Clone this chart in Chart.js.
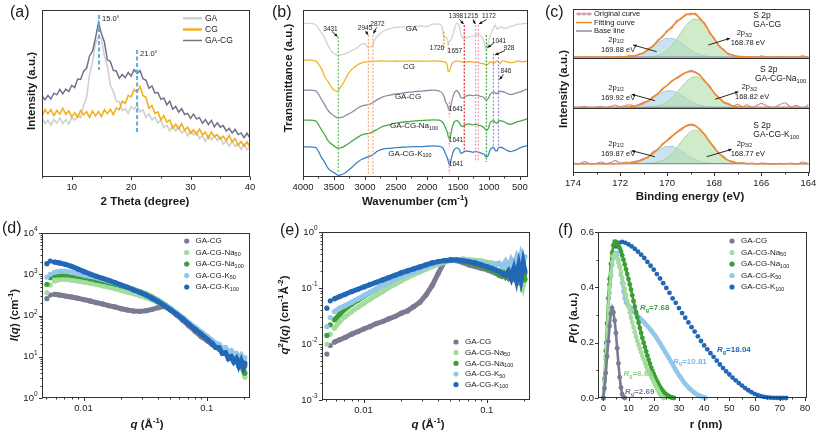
<!DOCTYPE html>
<html>
<head>
<meta charset="utf-8">
<title>Figure</title>
<script src="https://cdn.jsdelivr.net/npm/chart.js"></script>
<style>
html,body{margin:0;padding:0;background:#ffffff;}
#fig{position:relative;width:817px;height:434px;overflow:hidden;background:#fff;}
#fig canvas{position:absolute;left:0;top:0;}
</style>
</head>
<body>
<div id="fig">
<canvas id="cA" width="817" height="434"></canvas>
<canvas id="cB" width="817" height="434"></canvas>
<canvas id="cC" width="817" height="434"></canvas>
<canvas id="cD" width="817" height="434"></canvas>
<canvas id="cE" width="817" height="434"></canvas>
<canvas id="cF" width="817" height="434"></canvas>
</div>
<script>
// ======================= DATA =======================
// (a) XRD
const XRD_2THETA = [5,5.5,6,6.5,7,7.5,8,8.5,9,9.5,10,10.5,11,11.5,12,12.5,13,13.5,14,14.5,15,15.5,16,16.5,17,17.5,18,18.5,19,19.5,20,20.5,21,21.5,22,22.5,23,23.5,24,24.5,25,25.5,26,26.5,27,27.5,28,28.5,29,29.5,30,30.5,31,31.5,32,32.5,33,33.5,34,34.5,35,35.5,36,36.5,37,37.5,38,38.5,39,39.5,40];
const XRD_GA = [35.9,32,34,31.1,34.4,32.2,35.2,32,34.4,31.8, 35.6,34.1,37,35.5,42.7,47.7,61.3,69,79.8,83.4, 82.9,72.3,66.5,54.9,51.4,45.2,45.2,39.8,40.9,38.1, 42.1,40.6,43,39,40.2,35.7,37.8,34.2,35.8,32.4, 33.9,29.5,31,27.6,30.4,27.7,30.2,26.3,27.9,24.6, 27.6,25.1,27,23,24.7,21.4,24.8,22.2,24.8,21.9, 23.9,19.8,21.5,18.4,21.4,18.3,19.9,16.6,19.6,16.3, 18.2];
const XRD_CG = [36.2,40.3,37.9,40.4,36.8,39.9,37.7,41.2,37.5,39.6, 36,38.4,35.9,39.9,37.2,39.2,35.7,39.5,36.6,39.2, 36.2,40.3,37.9,40.6,37.3,41.4,40.2,45.4,44,48.9, 48,52.2,50.9,54.2,48.7,47.7,41.2,42.8,38.1,39, 34.2,36.8,32.9,34.1,29.3,31.6,28.7,31.9,28,29.9, 26,28.2,25.4,28.7,25.2,26.9,23.2,27,24.1,25.4, 22.6,24.4,21.7,24.9,21,22.9,19,21.2,18.4,21.1, 17.9];
const XRD_GACG = [48.5,46.3,48.8,46.7,50.2,49.2,52.4,49.8,52.6,51.2, 54.8,53.6,58.7,58.4,63.4,65.1,72.5,75.3,83.1,92.5, 85.8,80.8,70.2,69.2,63.8,63.5,59.1,61.4,59.4,62.6, 60.4,64.3,62.1,63.7,58.9,57.9,53.1,54.5,50.3,50.6, 46.5,47.3,43.2,45.4,40.6,42.3,38.8,40.9,37.4,38.1, 35.1,37.7,34.8,35.5,32.2,34.4,31.4,33.9,30.1,32.5, 29.8,30.8,27.5,29.1,26.4,28.5,25.4,26.4,23.6,26.2, 23.3];
const XRD_TICKS = [10,20,30,40];
const XRD_PEAKS = [14.6, 21.0];

// (b) FTIR
const FTIR_WN = [4000,3900,3800,3700,3650,3600,3550,3500,3450,3431, 3400,3350,3300,3250,3200,3150,3100,3050,3000,2945, 2900,2872,2850,2800,2700,2600,2500,2400,2300,2200, 2100,2000,1900,1800,1760,1726,1700,1670,1657,1641, 1620,1600,1560,1520,1480,1450,1420,1398,1370,1340, 1300,1260,1215,1190,1172,1150,1120,1080,1041,1010, 980,950,928,900,870,846,820,780,740,700, 650,600,550,500,450,400,370];
const FTIR_GA = [92,92,91.3,86.2,83.2,79,75.7,73.9,73,72.9, 73,73.4,74.2,75,76,76.9,78.1,79.6,79.9,77.4, 78.1,78.7,81.4,84.4,87.4,88.9,89.6,89.8,90,90.2, 90.4,90.1,91.6,91.6,90.4,83.2,83.8,82.6,80.2,80.8, 82,83.2,88,92.2,90.4,85,83,83,83.2,83.8, 84.1,84.4,85,85.3,85.4,85,84.1,81,76,80.8, 84.4,87.4,89.2,91,88.6,88.9,90.1,89.5,89,89.5, 90.1,90.7,91.4,91.6,91.9,92,92];
const FTIR_CG = [70,70,69.6,64.6,60,57.4,54.4,52,51.4,51.4, 53.5,56.2,59.8,62.8,64.9,66.4,67.6,68.4,68.8,69, 69.2,69.4,69.4,69.4,69.5,69.4,69.3,69.4,69.5,69.4, 69.3,69.4,69.5,69.4,69.3,69,68.8,66.4,63,63.4, 65.2,67.6,69.1,69.4,69.4,69.1,68.6,68.6,68.8,69, 69,68.8,68.6,68.8,68.5,68.2,68,67.8,67,67.8, 69,68.5,68,68.8,69.4,68.8,68,69.7,69.4,68.8, 68.5,68.6,69.4,69.2,69,69.4,69.7];
const FTIR_GACG = [52,52,51.7,46.3,43.3,40,38,36.7,35.4,35.4, 35.5,36,37,38,39.1,40.4,41.6,42.6,43,43.3, 44,44.5,45.1,46.3,48.1,49,49.7,50.2,50.8,51.1, 51.4,51.8,52,51.4,50.5,48.4,45.1,43,41.2,40, 41.8,45.4,50.2,51.8,49.9,47.4,47.4,47.8,48.4,48.8, 49,48.7,48.9,49,48.7,48.4,48.2,47.5,46,47, 49.6,50.5,51,50.2,49.9,51,51.2,51.2,50.6,49.9, 49.4,49.8,50.4,51,51.6,52.4,52.6];
const FTIR_NA100 = [34,34,33.6,28.2,25.3,22,20,18.6,17.4,17.2, 17.4,18,19.2,20.4,21.8,23,24.2,25.2,25.8,26, 26.6,27,27.6,28.6,30.4,31.4,32.2,32.8,33.2,33.6, 33.8,34,34.2,34,33.2,31.6,29.4,26.4,24.4,23, 24.6,28.6,33,33.8,32.6,30.6,30.4,30.8,31.4,31.8, 31.6,31.2,31.6,31.4,31,30.8,30.5,29.6,28,29, 32.6,33.4,33.7,32.6,32.2,33.6,33.8,33.4,32.8,32, 31.6,32.2,33,33.5,34,34.6,34.8];
const FTIR_K100 = [18,18,17.8,11.6,8.8,5.4,3.6,2.6,1.4,1, 1.2,1.8,3,4.6,6.2,7.9,9.4,10.6,11.4,12.2, 12.8,13.4,14,15.4,16.8,17.2,17.6,17.8,18,18.2, 18.2,18.4,18.6,18.4,17.8,16.2,13.8,11.2,9.6,7.4, 8.6,12.2,16.4,17.4,16.6,14.2,14.6,15.2,15.6,15.4, 15.2,14.8,15.4,15.2,14.8,14.6,14.2,13.6,12,13, 16.4,17.4,17.8,16,15.6,17.6,17.8,17.4,16.6,15.8, 15.2,15.8,16.4,17.4,18.2,18.6,18.8];
const FTIR_TICKS = [4000,3500,3000,2500,2000,1500,1000,500];
const FTIR_BANDS = [3431,2945,2872,1726,1657,1641,1398,1215,1172,1041,928,846];

// (c) XPS S 2p
const XPS_BE = [174,173.75,173.5,173.25,173,172.8,172.6,172.4,172.2,172,171.8,171.6,171.4,171.2,171,170.8,170.6,170.4,170.2,170,169.8,169.6,169.4,169.2,169,168.8,168.6,168.4,168.2,168,167.8,167.6,167.4,167.2,167,166.8,166.6,166.4,166.2,166,165.75,165.5,165.25,165,164.75,164.5,164.25,164];
const XPS_SAMPLES = ['GA-CG','GA-CG-Na_{100}','GA-CG-K_{100}'];
const XPS_BASE = [346,196,28];
const XPS_P12 = ['169.88','169.92','169.87'];
const XPS_P32 = ['168.78','168.82','168.77'];
const XPS_ORIG_GACG = [347,344,349,345,347,344,348,346,344,349, 346,351,348,356,358,372,378,398,405,426, 432,455,460,475,472,478,458,448,418,404, 378,370,354,353,346,349,344,348,345,350, 346,344,348,345,347,344,350,346];
const XPS_FIT_GACG = [346,346,346,346,346,346,346,346,346, 346.3,346.8,347.9,350,353.8,359.9,368.8,380.4,393.9,408.4,423,437.2,450.7,462.8,472.2,476.6,473.6,462.5,444.3,422.3,400.3,381.2,366.8,357.2,351.5,348.5,347,346.3,346.1, 346,346,346,346,346,346,346,346,346,346];
const XPS_P12_GACG = [346,346,346,346,346,346,346,346,346, 346.3,346.8,347.9,350,353.7,359.6,367.8,377.9,388.4,397.2,402.3, 402.3,397.2,388.4,377.9,367.8,359.6,353.7,350,347.9,346.8,346.3,346.1, 346,346,346,346,346,346,346,346,346,346,346,346,346,346,346,346];
const XPS_P32_GACG = [346,346,346,346,346,346,346,346,346,346,346,346,346, 346.1,346.3,347,348.5,351.5,357.2,366.7,380.9,399.5,420.4,440.3,454.8,460,454.8,440.3,420.4,399.5,380.9,366.7,357.2,351.5,348.5,347,346.3,346.1, 346,346,346,346,346,346,346,346,346,346];
const XPS_ORIG_NA100 = [193,196,199,194,197,199,195,199,203,198, 201,204,200,205,212,214,229,236,253,262, 276,282,291,300,306,302,293,272,262,238, 226,210,208,200,205,198,204,196,201,208, 200,195,203,210,198,202,192,204];
const XPS_FIT_NA100 = [196,196,196,196,196,196,196,196,196, 196.3,196.7,197.7,199.5,202.9,208.3,216,226,237.6,250,262.1,273.6,284.1,293.3,300.1,303,300,290.6,275.6,257.8,239.8,224.5,212.8,205,200.4,198,196.8,196.3,196.1, 196,196,196,196,196,196,196,196,196,196];
const XPS_P12_NA100 = [196,196,196,196,196,196,196,196,196, 196.3,196.7,197.7,199.5,202.8,208,215.2,224,233.2,241,245.4, 245.4,241,233.2,224,215.2,208,202.8,199.5,197.7,196.7,196.3,196.1, 196,196,196,196,196,196,196,196,196,196,196,196,196,196,196,196];
const XPS_P32_NA100 = [196,196,196,196,196,196,196,196,196,196,196,196,196, 196.1,196.3,196.8,198,200.4,205,212.7,224.2,239.1,256.1,272.1,283.8,288,283.8,272.1,256.1,239.1,224.2,212.7,205,200.4,198,196.8,196.3,196.1, 196,196,196,196,196,196,196,196,196,196];
const XPS_ORIG_K100 = [30,27,34,27,29,33,28,31,37,30, 33,31,35,37,44,47,64,70,88,96, 108,120,128,141,146,142,128,116,92,78, 58,50,37,35,28,31,27,29,27,30, 28,26,29,27,30,26,33,28];
const XPS_FIT_K100 = [28,28,28,28,28,28,28,28,28, 28.3,28.7,29.7,31.6,35.1,40.7,48.8,59.3,71.5,84.5,97.6,110,121.6,132,139.8,143.3,140.4,130.4,114.3,95,75.6,58.9,46.3,37.8,32.8,30.2,28.9,28.3,28.1, 28,28,28,28,28,28,28,28,28,28];
const XPS_P12_K100 = [28,28,28,28,28,28,28,28,28, 28.3,28.7,29.7,31.6,35,40.4,47.9,57.1,66.7,74.7,79.4, 79.4,74.7,66.7,57.1,47.9,40.4,35,31.6,29.7,28.7,28.3,28.1, 28,28,28,28,28,28,28,28,28,28,28,28,28,28,28,28];
const XPS_P32_K100 = [28,28,28,28,28,28,28,28,28,28,28,28,28, 28.1,28.3,28.9,30.2,32.8,37.8,46.2,58.6,74.9,93.3,110.7,123.4,128,123.4,110.7,93.3,74.9,58.6,46.2,37.8,32.8,30.2,28.9,28.3,28.1, 28,28,28,28,28,28,28,28,28,28];
const XPS_TICKS = [174,172,170,168,166,164];

// (d) SAXS I(q) and (e) Kratky q^2 I(q)
const SAXS_Q = [0.00504,0.00537,0.0058,0.0064,0.0071,0.008,0.009,0.0101,0.0113,0.0127,0.0143,0.016,0.018,0.0202,0.0227,0.0255,0.0286,0.0321,0.036,0.0404,0.0453,0.0508,0.057,0.064,0.0718,0.0806,0.0904,0.1015,0.11,0.118,0.126,0.134,0.142,0.15,0.158,0.166,0.174,0.182,0.19,0.198,0.204];
const SAXS_LABELS = ['GA-CG','GA-CG-Na_{50}','GA-CG-Na_{100}','GA-CG-K_{50}','GA-CG-K_{100}'];
const SAXS_I_GACG = [256,314,326,314,297,281,261,242,225,205, 190,173,161,146,136,128,126,131,141,155, 167,136,103,76,56,41,30.7,24.1, 20,17.2,15.5,13,13.5,10.5,10.5,8.2,8.5,6.2,6.8,5,6];
const SAXS_I_NA50 = [358,548,686,753,766,725,686,649,614,571, 528,491,447,407,371,338,302,271,238,209, 176,144,113,87,64.6,48.9,37,27.9, 23.2,19.7,17,15,13,12.8,10,10.5,8.4,8.5,6.5,4.5,3.2];
const SAXS_I_NA100 = [571,826,942,977,977,942,890,841,781,725, 673,625,580,528,482,431,378,332,281,233, 187,147,113,85,63,47,35.6,26.9, 21.9,18.2,16,13.5,13.8,10,10.5,8,8.7,6.5,7,5,4];
const SAXS_I_K50 = [857,995,1112,1177,1177,1112,1032,959,890,826, 753,686,614,549,482,423,371,320,271,225, 183,147,115,89,67,52,40,30.7, 25.5,21.5,20,16,16.6,13,14,11.5,12,9.5,11,8.5,9.5];
const SAXS_I_K100 = [1806,2095,1981,1874,1739,1556,1341,1155,1014,890, 796,712,625,549,482,415,364,314,261,216, 173,138,107,82,61,46,35,26.4, 21.5,17,16.5,12,12.5,9,10,7.5,9,6,8,5.5,7];
const KRATKY_GACG = [0.0066,0.0094,0.0108,0.0119,0.0131,0.015,0.0167,0.0187,0.0205,0.0232, 0.0252,0.0281,0.031,0.0355,0.039,0.0464,0.0556,0.075,0.11,0.183, 0.296,0.317,0.308,0.284,0.258,0.241,0.225,0.21, 0.196,0.183,0.171,0.16,0.171,0.149,0.171,0.149,0.183,0.14,0.171,0.149,0.183];
const KRATKY_NA50 = [0.00995,0.015,0.0192,0.0252,0.031,0.038,0.0454,0.0535,0.063,0.0743, 0.0864,0.1018,0.1167,0.134,0.1535,0.1738,0.1935,0.216,0.241,0.265, 0.288,0.308,0.321,0.33,0.321,0.313,0.304,0.288, 0.28,0.272,0.265,0.258,0.241,0.265,0.225,0.277,0.196,0.258,0.171,0.11,0.149];
const KRATKY_NA100 = [0.0142,0.022,0.027,0.034,0.0424,0.0514,0.0605,0.0713,0.083,0.0964, 0.112,0.1285,0.147,0.1667,0.186,0.2074,0.228,0.248,0.269,0.288, 0.304,0.313,0.313,0.304,0.288,0.269,0.248,0.225, 0.21,0.196,0.171,0.2,0.16,0.191,0.149,0.2,0.149,0.225,0.134,0.196,0.14];
const KRATKY_K50 = [0.0205,0.0297,0.038,0.0436,0.0486,0.0558,0.064,0.0733,0.084,0.0964, 0.1105,0.125,0.141,0.158,0.176,0.1935,0.213,0.2346,0.258,0.28, 0.3,0.313,0.317,0.313,0.308,0.296,0.284,0.272, 0.265,0.258,0.277,0.241,0.296,0.225,0.317,0.258,0.349,0.241,0.389,0.296,0.363];
const KRATKY_K100 = [0.0436,0.0589,0.064,0.0703,0.0774,0.0864,0.095,0.1047,0.115,0.1267, 0.1394,0.1535,0.169,0.186,0.2018,0.219,0.2377,0.258,0.28,0.296, 0.308,0.317,0.317,0.308,0.296,0.28,0.258,0.2377, 0.225,0.21,0.2,0.18,0.17,0.2,0.15,0.22,0.14,0.25,0.15,0.28,0.2];
const Q_TICKS = [0.01,0.1];
const I_TICKS = [1,10,100,1000,10000];
const I_TICK_LABELS = ['10^{0}','10^{1}','10^{2}','10^{3}','10^{4}'];
const K_TICKS = [0.001,0.01,0.1,1];
const K_TICK_LABELS = ['10^{-3}','10^{-2}','10^{-1}','10^{0}'];

// (f) pair distance distribution P(r)
const PR_R05 = [0,0.5,1,1.5,2,2.5,3,3.5,4,4.5,5,5.5,6,6.5,7,7.5,8,8.5,9,9.5,10,10.5,11,11.5,12,12.5,13,13.5,14,14.5,15,15.5,16,16.5,17,17.5,18,18.5,19,19.5,20,20.5,21,21.5,22,22.5,23,23.5,24,24.5,25,25.5,26,26.5,27,27.5,28,28.5,29,29.5,30,30.5,31,31.5,32,32.5,33,33.5,34,34.5,35,35.5,36,36.5,37,37.5,38,38.5,39,39.5,40,40.5];
const PR_R125 = [0,1.25,2.5,3.75,5,6.25,7.5,8.75,10,11.25,12.5,13.75,15,16.25,17.5,18.75,20,21.25,22.5,23.75,25,26.25,27.5,28.75,30,31.25,32.5,33.75,35,36.25,37.5,38.75,40,41.25,42.5,43.75,45,46.25,47.5,48.75,50,51.25,52.5,53.75,55,56.25,57.5,58.75,60,61.25,62.5,63.75,65,66.25,67.5,68.75,70,71.25,72.5];
const PR_GACG = [0,0.035,0.09,0.15,0.205,0.26,0.305,0.325,0.31,0.28,0.235,0.18,0.125,0.075,0.038,0.014,0.003,0];
const PR_NA50 = [0,0.06,0.15,0.25,0.33,0.4,0.45,0.49,0.512,0.52,0.515,0.505,0.49,0.473,0.455,0.435,0.415,0.394,0.372,0.351,0.33,0.31,0.29,0.272,0.255,0.238,0.222,0.207,0.192,0.178,0.165,0.152,0.14,0.128,0.116,0.105,0.095,0.086,0.077,0.068,0.058,0.049,0.04,0.031,0.022,0.014,0.008,0.003,0];
const PR_NA100 = [0,0.07,0.17,0.27,0.36,0.43,0.485,0.525,0.552,0.565,0.564,0.558,0.55,0.541,0.53,0.516,0.5,0.483,0.465,0.448,0.43,0.411,0.392,0.371,0.35,0.33,0.31,0.291,0.272,0.253,0.235,0.217,0.2,0.184,0.168,0.153,0.138,0.124,0.11,0.098,0.087,0.076,0.066,0.057,0.048,0.04,0.033,0.027,0.021,0.016,0.012,0.009,0.006,0.004,0.002,0.001,0];
const PR_K50 = [0,0.06,0.14,0.23,0.31,0.38,0.44,0.48,0.505,0.52,0.525,0.52,0.5,0.475,0.445,0.415,0.385,0.36,0.345,0.34,0.335,0.329,0.323,0.317,0.312,0.307,0.302,0.298,0.293,0.289,0.284,0.28,0.275,0.27,0.265,0.26,0.255,0.249,0.244,0.238,0.232,0.226,0.219,0.212,0.205,0.198,0.19,0.183,0.175,0.167,0.16,0.152,0.145,0.137,0.129,0.121,0.113,0.105,0.098,0.09,0.083,0.076,0.07,0.063,0.057,0.051,0.046,0.041,0.036,0.032,0.028,0.024,0.02,0.017,0.014,0.011,0.009,0.007,0.005,0.003,0.002,0];
const PR_K100 = [0,0.2,0.41,0.505,0.548,0.561,0.564,0.561,0.555,0.548,0.539,0.529,0.518,0.506,0.492,0.478,0.464,0.448,0.432,0.415,0.398,0.38,0.36,0.344,0.325,0.307,0.29,0.273,0.256,0.24,0.223,0.206,0.19,0.176,0.162,0.149,0.135,0.121,0.108,0.096,0.085,0.074,0.064,0.054,0.045,0.036,0.028,0.021,0.015,0.01,0.007,0.004,0.0025,0.0013,0.0006,0.0002,0,0,0];
const RG_VALUES = ['2.69','6.65','7.68','10.81','18.04'];
const PR_XTICKS = [0,10,20,30,40,50,60,70,80];
const PR_YTICKS = [0,0.2,0.4,0.6];

// ======================= DRAWING =======================
const FONT = '"Liberation Sans", Arial, Helvetica, sans-serif';
const PW = 817, PH = 434, AXX = 22, AXY = 38;
Chart.defaults.font.family = FONT;
Chart.defaults.color = '#222';

const COL = {
  gaA:'#d0d0d0', cgA:'#f0b020', gacgA:'#72718b',
  gaB:'#d2d2d2', cgB:'#f4b22a', gacgB:'#8d8ba5', na100B:'#4aa944', k100B:'#3a82c6',
  gacg:'#7b7a93', na50:'#a3dc9d', na100:'#3a9f34', k50:'#93c7ea', k100:'#2268b6'
};
const PLOT = {
  a:{l:42,r:250,t:10,b:177}, b:{l:303,r:528,t:10,b:177}, c:{l:573,r:810,t:9,b:173},
  d:{l:42,r:250,t:233,b:398}, e:{l:322,r:530,t:232,b:400}, f:{l:598,r:807,t:232,b:398}
};

function pairs(xs, ys){ return ys.map((y,i)=>({x:xs[i], y:y})); }

function parseRich(s){
  const out=[]; let buf=''; let i=0;
  while(i<s.length){
    const c=s[i];
    if((c==='^'||c==='_'||c==='~') && s[i+1]==='{'){
      if(buf){ out.push({t:buf,k:''}); buf=''; }
      const j=s.indexOf('}', i+2);
      out.push({t:s.slice(i+2,j), k:c}); i=j+1;
    } else { buf+=c; i++; }
  }
  if(buf) out.push({t:buf,k:''});
  return out;
}
function rich(ctx, x, y, s, o){
  o=o||{}; const size=o.size||9; const wt=o.bold?'bold ':'';
  const segs=parseRich(s);
  const fnt=k=>{ const small=(k==='^'||k==='_'); const sz=small?size*0.68:size; const it=(k==='~'||o.italic)?'italic ':''; return it+wt+sz.toFixed(2)+'px '+FONT; };
  ctx.save();
  let w=0; segs.forEach(g=>{ ctx.font=fnt(g.k); g.w=ctx.measureText(g.t).width; w+=g.w; });
  ctx.translate(x,y); if(o.rotate) ctx.rotate(o.rotate);
  let cx = o.align==='center' ? -w/2 : (o.align==='right' ? -w : 0);
  ctx.fillStyle=o.color||'#1a1a1a'; ctx.textAlign='left'; ctx.textBaseline='middle';
  segs.forEach(g=>{ ctx.font=fnt(g.k); const dy = g.k==='^' ? -size*0.36 : (g.k==='_' ? size*0.26 : 0); ctx.fillText(g.t, cx, dy); cx+=g.w; });
  ctx.restore();
  return w;
}
function arrow(ctx, x1, y1, x2, y2, col){
  ctx.save(); ctx.strokeStyle=col||'#111'; ctx.fillStyle=col||'#111'; ctx.lineWidth=0.9;
  ctx.beginPath(); ctx.moveTo(x1,y1); ctx.lineTo(x2,y2); ctx.stroke();
  const a=Math.atan2(y2-y1,x2-x1), h=3.6;
  ctx.beginPath(); ctx.moveTo(x2,y2);
  ctx.lineTo(x2-h*Math.cos(a-0.45), y2-h*Math.sin(a-0.45));
  ctx.lineTo(x2-h*Math.cos(a+0.45), y2-h*Math.sin(a+0.45));
  ctx.closePath(); ctx.fill(); ctx.restore();
}
function vdash(chart, ctx, xv, y0, y1, col, lw, dash){
  const sx=chart.scales.x, sy=chart.scales.y; const px=sx.getPixelForValue(xv);
  ctx.save(); ctx.strokeStyle=col; ctx.lineWidth=lw; ctx.setLineDash(dash);
  ctx.beginPath(); ctx.moveTo(px, sy.getPixelForValue(y0)); ctx.lineTo(px, sy.getPixelForValue(y1)); ctx.stroke(); ctx.restore();
}
function legLine(ctx, x1, x2, y, col, lw, label, tx, size){
  ctx.save(); ctx.strokeStyle=col; ctx.lineWidth=lw; ctx.beginPath(); ctx.moveTo(x1,y); ctx.lineTo(x2,y); ctx.stroke(); ctx.restore();
  rich(ctx, tx, y, label, {size:size});
}
function legDot(ctx, x, y, col, label, tx, size){
  ctx.save(); ctx.fillStyle=col; ctx.beginPath(); ctx.arc(x,y,2.6,0,Math.PI*2); ctx.fill(); ctx.restore();
  rich(ctx, tx, y, label, {size:size});
}
function logMinor(lo, hi){ const out=[]; for(let e=lo;e<hi;e++){ for(let m=2;m<=9;m++){ out.push(m*Math.pow(10,e)); } } return out; }

function fitX(s){ s.height=AXX; s.paddingLeft=0; s.paddingRight=0; s.paddingTop=0; s.paddingBottom=0; }
function fitY(s){ s.width=AXY; s.paddingLeft=0; s.paddingRight=0; s.paddingTop=0; s.paddingBottom=0; }
function layoutFor(p){ return {padding:{left:p.l-AXY, top:p.t, right:PW-p.r, bottom:PH-p.b-AXX}}; }
function axis(o){
  const arr=o.ticks||[];
  return {
    type:o.type||'linear', position:o.position, min:o.min, max:o.max, reverse:!!o.reverse,
    grid:{display:false, drawTicks:false}, border:{display:false},
    afterFit: o.position==='bottom' ? fitX : fitY,
    afterBuildTicks: s => { s.ticks = arr.map(v=>({value:v})); },
    ticks:{display:!!o.fmt, font:{size:9.5, family:FONT}, color:'#222', padding:o.pad||5, maxRotation:0, minRotation:0, autoSkip:false,
      callback:(v)=> o.fmt ? o.fmt(v) : ''}
  };
}
function panelPlugin(spec, draw){
  return { id:'panel', afterDraw(chart){
    const ctx=chart.ctx, a=chart.chartArea;
    ctx.save();
    if(draw) draw(chart, ctx);
    ctx.strokeStyle='#333'; ctx.lineWidth=1; ctx.setLineDash([]);
    const L=Math.round(a.left)+0.5, T=Math.round(a.top)+0.5, R=Math.round(a.right)-0.5, B=Math.round(a.bottom)-0.5;
    ctx.strokeRect(L, T, R-L, B-T);
    ctx.beginPath();
    ['x','y'].forEach(k=>{
      const sp=spec[k]; if(!sp) return; const sc=chart.scales[k];
      [[sp.major||[],3.5],[sp.minor||[],2]].forEach(([vals,len])=>{
        vals.forEach(v=>{
          const p=Math.round(sc.getPixelForValue(v))+0.5;
          if(k==='x'){ if(p<L-1||p>R+1) return; ctx.moveTo(p,B); ctx.lineTo(p,B+len); }
          else { if(p<T-1||p>B+1) return; ctx.moveTo(L,p); ctx.lineTo(L-len,p); }
        });
      });
    });
    ctx.stroke();
    ctx.restore();
  }};
}
function baseOptions(p, scales){
  return { responsive:false, animation:false, events:[], layout:layoutFor(p),
    plugins:{legend:{display:false}, tooltip:{enabled:false}}, scales:scales };
}
function lineDs(label, xs, ys, col, lw, order, extra){
  return Object.assign({label:label, data:pairs(xs,ys), borderColor:col, backgroundColor:col, borderWidth:lw, pointRadius:0, tension:0, order:order}, extra||{});
}

// ---------- (a) ----------
new Chart(document.getElementById('cA'), {
  type:'line',
  data:{datasets:[
    lineDs('GA-CG', XRD_2THETA, XRD_GACG, COL.gacgA, 1.5, 1),
    lineDs('CG', XRD_2THETA, XRD_CG, COL.cgA, 1.6, 2),
    lineDs('GA', XRD_2THETA, XRD_GA, COL.gaA, 1.6, 3)
  ]},
  options: baseOptions(PLOT.a, {
    x: axis({position:'bottom', min:5, max:40, ticks:XRD_TICKS, fmt:v=>String(v)}),
    y: axis({position:'left', min:0, max:100})
  }),
  plugins:[panelPlugin({x:{major:XRD_TICKS, minor:[5,15,25,35]}}, (chart, ctx)=>{
    rich(ctx, 10, 12.5, '(a)', {size:16});
    rich(ctx, 32, 91, 'Intensity (a.u.)', {size:11.5, bold:true, align:'center', rotate:-Math.PI/2});
    rich(ctx, 145, 202, '2 Theta (degree)', {size:11.5, bold:true, align:'center'});
    vdash(chart, ctx, XRD_PEAKS[0], 97, 64, '#5aaee0', 2, [4,2.5]);
    vdash(chart, ctx, XRD_PEAKS[1], 76, 26, '#5aaee0', 2, [4,2.5]);
    rich(ctx, 102, 19, '15.0°', {size:7.5});
    rich(ctx, 140, 53.5, '21.0°', {size:7.5});
    legLine(ctx, 183, 202, 18.3, COL.gaA, 2.5, 'GA', 205, 8.5);
    legLine(ctx, 183, 202, 29.5, COL.cgA, 2.5, 'CG', 205, 8.5);
    legLine(ctx, 183, 202, 40.5, COL.gacgA, 1.5, 'GA-CG', 205, 8.5);
  })]
});

// ---------- (b) ----------
new Chart(document.getElementById('cB'), {
  type:'line',
  data:{datasets:[
    lineDs('GA', FTIR_WN, FTIR_GA, COL.gaB, 1.3, 1),
    lineDs('CG', FTIR_WN, FTIR_CG, COL.cgB, 1.3, 2),
    lineDs('GA-CG', FTIR_WN, FTIR_GACG, COL.gacgB, 1.3, 3),
    lineDs('GA-CG-Na100', FTIR_WN, FTIR_NA100, COL.na100B, 1.3, 4),
    lineDs('GA-CG-K100', FTIR_WN, FTIR_K100, COL.k100B, 1.3, 5)
  ].map(d=>Object.assign(d,{cubicInterpolationMode:'monotone'}))},
  options: baseOptions(PLOT.b, {
    x: axis({position:'bottom', min:370, max:4000, reverse:true, ticks:FTIR_TICKS, fmt:v=>String(v)}),
    y: axis({position:'left', min:0, max:100})
  }),
  plugins:[panelPlugin({x:{major:FTIR_TICKS, minor:[3750,3250,2750,2250,1750,1250,750]}}, (chart, ctx)=>{
    rich(ctx, 272, 12.5, '(b)', {size:16});
    rich(ctx, 288.5, 78, 'Transmittance (a.u.)', {size:11.5, bold:true, align:'center', rotate:-Math.PI/2});
    rich(ctx, 415, 202, 'Wavenumber (cm^{-1})', {size:11.5, bold:true, align:'center'});
    const D=[2,1.6];
    vdash(chart, ctx, FTIR_BANDS[0], 84, 3, '#5cc45c', 1.2, D);
    vdash(chart, ctx, FTIR_BANDS[1], 85, 1, '#f3ad80', 1.2, D);
    vdash(chart, ctx, FTIR_BANDS[2], 85, 1, '#f3ad80', 1.2, D);
    vdash(chart, ctx, FTIR_BANDS[3], 87, 76, '#f0a020', 1.4, D);
    vdash(chart, ctx, FTIR_BANDS[4], 80, 74, '#ee8a9a', 1.2, D);
    vdash(chart, ctx, FTIR_BANDS[5], 45, 36, '#ee8a9a', 1.2, D);
    vdash(chart, ctx, FTIR_BANDS[5], 27, 18, '#ee8a9a', 1.2, D);
    vdash(chart, ctx, FTIR_BANDS[5], 11, 2, '#ee8a9a', 1.2, D);
    vdash(chart, ctx, FTIR_BANDS[6], 91, 15, '#e03a3a', 1.3, D);
    vdash(chart, ctx, FTIR_BANDS[7], 91, 9, '#f09ab0', 1.2, D);
    vdash(chart, ctx, FTIR_BANDS[8], 91, 9, '#f09ab0', 1.2, D);
    vdash(chart, ctx, FTIR_BANDS[9], 85, 9, '#3cb43c', 1.3, D);
    vdash(chart, ctx, FTIR_BANDS[10], 74, 16, '#9292c8', 1.2, D);
    vdash(chart, ctx, FTIR_BANDS[11], 74, 16, '#9292c8', 1.2, D);
    const s=6.5;
    rich(ctx, 330.5, 29, '3431', {size:s, align:'center'});
    rich(ctx, 365, 28.3, '2945', {size:s, align:'center'});
    rich(ctx, 377.5, 24.5, '2872', {size:s, align:'center'});
    rich(ctx, 456, 16.5, '1398', {size:s, align:'center'});
    rich(ctx, 471, 16.5, '1215', {size:s, align:'center'});
    rich(ctx, 489, 16.5, '1172', {size:s, align:'center'});
    rich(ctx, 437, 48, '1726', {size:s, align:'center'});
    rich(ctx, 455, 51.5, '1657', {size:s, align:'center'});
    rich(ctx, 456, 109.5, '1641', {size:s, align:'center'});
    rich(ctx, 456, 140, '1641', {size:s, align:'center'});
    rich(ctx, 456, 164.5, '1641', {size:s, align:'center'});
    rich(ctx, 499, 41, '1041', {size:s, align:'center'});
    rich(ctx, 509, 48, '928', {size:s, align:'center'});
    rich(ctx, 506, 71, '846', {size:s, align:'center'});
    arrow(ctx, 332, 31.5, 337.5, 36.5);
    arrow(ctx, 365.5, 30.8, 368, 34.8);
    arrow(ctx, 376.5, 27.5, 373.5, 33.5);
    arrow(ctx, 459.5, 19.5, 463.6, 24);
    arrow(ctx, 473, 19.5, 475.3, 24);
    arrow(ctx, 486.5, 19.5, 479, 24);
    arrow(ctx, 493.5, 43.5, 487.5, 47.5);
    arrow(ctx, 505, 50.5, 495, 55);
    arrow(ctx, 503.5, 74.5, 499.5, 79.5);
    rich(ctx, 411.5, 28.3, 'GA', {size:8, align:'center'});
    rich(ctx, 409, 66.5, 'CG', {size:8, align:'center'});
    rich(ctx, 408, 96.5, 'GA-CG', {size:8, align:'center'});
    rich(ctx, 414, 126, 'GA-CG-Na_{100}', {size:8, align:'center'});
    rich(ctx, 410, 153.3, 'GA-CG-K_{100}', {size:8, align:'center'});
  })]
});

// ---------- (c) ----------
(function(){
  const sets = [
    {orig:XPS_ORIG_GACG, fit:XPS_FIT_GACG, p12:XPS_P12_GACG, p32:XPS_P32_GACG, base:XPS_BASE[0]},
    {orig:XPS_ORIG_NA100, fit:XPS_FIT_NA100, p12:XPS_P12_NA100, p32:XPS_P32_NA100, base:XPS_BASE[1]},
    {orig:XPS_ORIG_K100, fit:XPS_FIT_K100, p12:XPS_P12_K100, p32:XPS_P32_K100, base:XPS_BASE[2]}
  ];
  const ds=[];
  sets.forEach((s,i)=>{
    ds.push(lineDs('fit'+i, XPS_BE, s.fit, '#f28a26', 1.5, 1, {cubicInterpolationMode:'monotone'}));
    ds.push(lineDs('orig'+i, XPS_BE, s.orig, '#c98ba2', 1.1, 2, {tension:0.25}));
    ds.push(lineDs('base'+i, [174,164], [s.base, s.base], '#8d8bb3', 1.2, 3));
    ds.push(lineDs('p32'+i, XPS_BE, s.p32, '#a9d6a2', 1, 4, {cubicInterpolationMode:'monotone', fill:{value:s.base}, backgroundColor:'rgba(178,222,170,0.62)'}));
    ds.push(lineDs('p12'+i, XPS_BE, s.p12, '#a4cce2', 1, 5, {cubicInterpolationMode:'monotone', fill:{value:s.base}, backgroundColor:'rgba(168,206,228,0.6)'}));
  });
  new Chart(document.getElementById('cC'), {
    type:'line', data:{datasets:ds},
    options: baseOptions(PLOT.c, {
      x: axis({position:'bottom', min:163.93, max:174, reverse:true, ticks:XPS_TICKS, fmt:v=>String(v)}),
      y: axis({position:'left', min:0, max:490})
    }),
    plugins:[panelPlugin({x:{major:XPS_TICKS, minor:[173,171,169,167,165]}}, (chart, ctx)=>{
      rich(ctx, 545, 12.5, '(c)', {size:16});
      rich(ctx, 563.5, 89, 'Intensity (a.u.)', {size:11.5, bold:true, align:'center', rotate:-Math.PI/2});
      rich(ctx, 690, 197, 'Binding energy (eV)', {size:11.5, bold:true, align:'center'});
      const sy=chart.scales.y, a=chart.chartArea;
      ctx.save(); ctx.strokeStyle='#333'; ctx.lineWidth=1;
      [343,193].forEach(v=>{ const p=Math.round(sy.getPixelForValue(v))+0.5; ctx.beginPath(); ctx.moveTo(a.left,p); ctx.lineTo(a.right,p); ctx.stroke(); });
      ctx.restore();
      legLine(ctx, 576, 592, 14, '#c98ba2', 1.2, 'Original curve', 594, 7.5);
      ctx.save(); ctx.strokeStyle='#c98ba2'; ctx.lineWidth=0.8; [579,584,589].forEach(x=>{ ctx.beginPath(); ctx.arc(x,14,1.3,0,Math.PI*2); ctx.stroke(); }); ctx.restore();
      legLine(ctx, 576, 592, 22.5, '#f28a26', 1.5, 'Fitting curve', 594, 7.5);
      legLine(ctx, 576, 592, 31, '#8d8bb3', 1.5, 'Base line', 594, 7.5);
      const lab=[{y1:39.5,y2:49.5,ry1:33.3,ry2:42.7,rx1:736.7,rx2:730.7, al:[656.7,51.7,633.3,45], ar:[708.3,45,730,38.3], sx:753.3, sy1:16, sy2:25},
                 {y1:87.5,y2:98.3,ry1:87.3,ry2:96.7,rx1:741.7,rx2:735, al:[655,100.7,631.7,94.3], ar:[715,99.3,738.3,91.7], sx:755, sy1:70, sy2:79},
                 {y1:144,y2:154,ry1:144,ry2:154,rx1:736.7,rx2:730.7, al:[655,156.7,631.7,150.7], ar:[706.7,156.7,731.7,149.3], sx:753.3, sy1:126, sy2:135}];
      lab.forEach((L,i)=>{
        rich(ctx, 608.3, L.y1, '2p_{1/2}', {size:7.5});
        rich(ctx, 601, L.y2, XPS_P12[i]+' eV', {size:7.5});
        rich(ctx, L.rx1, L.ry1, '2p_{3/2}', {size:7.5});
        rich(ctx, L.rx2, L.ry2, XPS_P32[i]+' eV', {size:7.5});
        arrow(ctx, L.al[0], L.al[1], L.al[2], L.al[3]);
        arrow(ctx, L.ar[0], L.ar[1], L.ar[2], L.ar[3]);
        rich(ctx, i===1?760:L.sx, L.sy1, 'S 2p', {size:8.5});
        rich(ctx, L.sx, L.sy2, XPS_SAMPLES[i], {size:8.5});
      });
    })]
  });
})();

// ---------- (d) & (e) ----------
function saxsDs(label, ys, col, order){
  return {label:label, data:pairs(SAXS_Q, ys), borderColor:col, backgroundColor:col, pointBackgroundColor:col, pointBorderWidth:0, pointRadius:2.6, borderWidth:5, order:order,
    segment:{borderColor: c => c.p0DataIndex < 2 ? 'rgba(0,0,0,0)' : undefined}};
}
const SAXS_COLS = [COL.gacg, COL.na50, COL.na100, COL.k50, COL.k100];
function saxsLegend(ctx, x, tx, ys){
  SAXS_LABELS.forEach((l,i)=> legDot(ctx, x, ys[i], SAXS_COLS[i], l, tx, 8));
}
new Chart(document.getElementById('cD'), {
  type:'line',
  data:{datasets:[
    saxsDs('GA-CG', SAXS_I_GACG, COL.gacg, 5),
    saxsDs('GA-CG-Na50', SAXS_I_NA50, COL.na50, 4),
    saxsDs('GA-CG-Na100', SAXS_I_NA100, COL.na100, 3),
    saxsDs('GA-CG-K50', SAXS_I_K50, COL.k50, 2),
    saxsDs('GA-CG-K100', SAXS_I_K100, COL.k100, 1)
  ]},
  options: baseOptions(PLOT.d, {
    x: axis({type:'logarithmic', position:'bottom', min:0.0046, max:0.2244, ticks:Q_TICKS, fmt:v=>String(v)}),
    y: axis({type:'logarithmic', position:'left', min:1, max:10000, ticks:I_TICKS})
  }),
  plugins:[panelPlugin({x:{major:Q_TICKS, minor:logMinor(-3,0)}, y:{major:I_TICKS, minor:logMinor(0,4)}}, (chart, ctx)=>{
    rich(ctx, 2, 229, '(d)', {size:16});
    const sy=chart.scales.y;
    I_TICKS.forEach((v,i)=> rich(ctx, 37.5, sy.getPixelForValue(v), I_TICK_LABELS[i], {size:9.5, align:'right'}));
    rich(ctx, 15, 315, '~{I}(~{q}) (cm^{-1})', {size:11.5, bold:true, align:'center', rotate:-Math.PI/2});
    rich(ctx, 147, 425, '~{q} (Å^{-1})', {size:11.5, bold:true, align:'center'});
    saxsLegend(ctx, 186.7, 195.5, [241,252.5,264,275.5,287]);
  })]
});
new Chart(document.getElementById('cE'), {
  type:'line',
  data:{datasets:[
    saxsDs('GA-CG', KRATKY_GACG, COL.gacg, 5),
    saxsDs('GA-CG-Na50', KRATKY_NA50, COL.na50, 4),
    saxsDs('GA-CG-Na100', KRATKY_NA100, COL.na100, 3),
    saxsDs('GA-CG-K50', KRATKY_K50, COL.k50, 2),
    saxsDs('GA-CG-K100', KRATKY_K100, COL.k100, 1)
  ]},
  options: baseOptions(PLOT.e, {
    x: axis({type:'logarithmic', position:'bottom', min:0.0046, max:0.2244, ticks:Q_TICKS, fmt:v=>String(v)}),
    y: axis({type:'logarithmic', position:'left', min:0.001, max:1, ticks:K_TICKS})
  }),
  plugins:[panelPlugin({x:{major:Q_TICKS, minor:logMinor(-3,0)}, y:{major:K_TICKS, minor:logMinor(-3,0)}}, (chart, ctx)=>{
    rich(ctx, 280, 231, '(e)', {size:16});
    const sy=chart.scales.y;
    K_TICKS.forEach((v,i)=> rich(ctx, 317.5, sy.getPixelForValue(v), K_TICK_LABELS[i], {size:9.5, align:'right'}));
    rich(ctx, 285, 315, '~{q}^{2}~{I}(~{q}) (cm^{-1}Å^{-2})', {size:11.5, bold:true, align:'center', rotate:-Math.PI/2});
    rich(ctx, 428, 425, '~{q} (Å^{-1})', {size:11.5, bold:true, align:'center'});
    saxsLegend(ctx, 456, 465, [342,352.7,363.3,374,384.6]);
  })]
});

// ---------- (f) ----------
function prDs(label, xs, ys, col, order, line){
  return {label:label, data:pairs(xs, ys), borderColor:col, backgroundColor:col, pointBackgroundColor:col, pointBorderWidth:0, pointRadius:2.4,
    borderWidth:line?2.6:0, showLine:!!line, order:order, clip:false};
}
new Chart(document.getElementById('cF'), {
  type:'line',
  data:{datasets:[
    prDs('GA-CG', PR_R05.slice(0, PR_GACG.length), PR_GACG, COL.gacg, 1, true),
    prDs('GA-CG-Na50', PR_R05.slice(0, PR_NA50.length), PR_NA50, COL.na50, 2, true),
    prDs('GA-CG-Na100', PR_R05.slice(0, PR_NA100.length), PR_NA100, COL.na100, 3, true),
    prDs('GA-CG-K50', PR_R05.slice(0, PR_K50.length), PR_K50, COL.k50, 4, true),
    prDs('GA-CG-K100', PR_R125, PR_K100, COL.k100, 5, false)
  ]},
  options: baseOptions(PLOT.f, {
    x: axis({position:'bottom', min:-2.1, max:80.8, ticks:PR_XTICKS, fmt:v=>String(v)}),
    y: axis({position:'left', min:0, max:0.6, ticks:PR_YTICKS, fmt:v=>v.toFixed(1), pad:4})
  }),
  plugins:[panelPlugin({x:{major:PR_XTICKS, minor:[5,15,25,35,45,55,65,75]}, y:{major:PR_YTICKS, minor:[0.1,0.3,0.5]}}, (chart, ctx)=>{
    rich(ctx, 558, 231, '(f)', {size:16});
    rich(ctx, 574, 318, '~{P}(r) (a.u.)', {size:11.5, bold:true, align:'center', rotate:-Math.PI/2});
    rich(ctx, 706, 425, 'r (nm)', {size:11.5, bold:true, align:'center'});
    saxsLegend(ctx, 732, 741, [241,252.5,264,275.5,287]);
    rich(ctx, 625, 392, '~{R}_{g}='+RG_VALUES[0], {size:8, bold:true, color:COL.gacg});
    rich(ctx, 623.5, 374, '~{R}_{g}='+RG_VALUES[1], {size:8, bold:true, color:'#8fd08a'});
    rich(ctx, 640, 308, '~{R}_{g}='+RG_VALUES[2], {size:8, bold:true, color:COL.na100});
    rich(ctx, 673, 361.5, '~{R}_{g}='+RG_VALUES[3], {size:8, bold:true, color:'#7fb9e3'});
    rich(ctx, 717, 350, '~{R}_{g}='+RG_VALUES[4], {size:8, bold:true, color:COL.k100});
  })]
});
</script>
</body>
</html>
